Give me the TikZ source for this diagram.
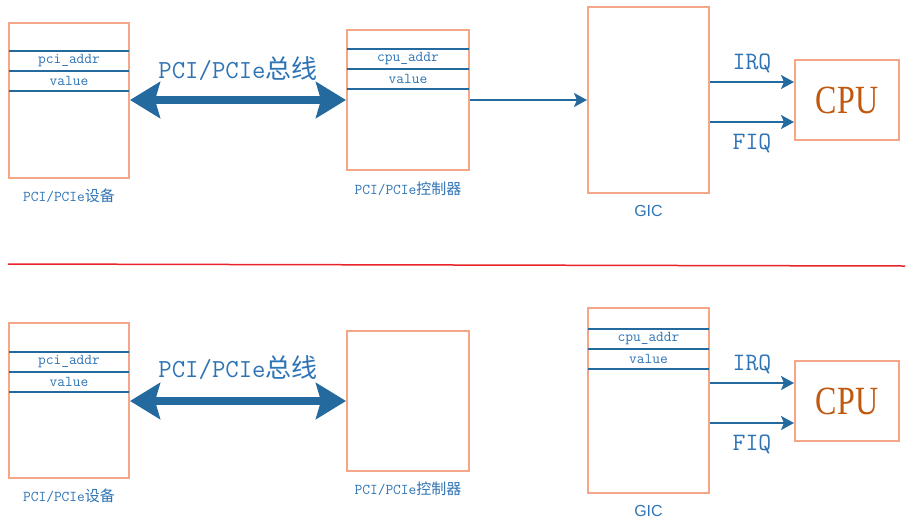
\documentclass[tikz,border=0pt]{standalone}
\usepackage{fontspec}
\newfontfamily\cjk{Noto Sans CJK SC}
\newfontfamily\gicfont{Liberation Sans}
\newfontfamily\cpufont[FakeStretch=0.8]{Liberation Serif}
\usetikzlibrary{arrows.meta,calc}
\definecolor{bord}{HTML}{F4A686}
\definecolor{blu}{HTML}{2E74B5}
\definecolor{arr}{HTML}{246A9F}
\definecolor{cpuc}{HTML}{C0580E}
\definecolor{redl}{HTML}{E8232A}
\tikzset{
  box/.style={draw=bord, line width=2pt, fill=white, inner sep=0pt, rectangle},
  reg/.style={draw=arr, line width=1.6pt},
  regtxt/.style={text=blu, font=\ttfamily\fontsize{15}{18}\selectfont, inner sep=0pt},
  lab/.style={text=blu, font=\ttfamily\fontsize{15}{18}\selectfont, inner sep=0pt},
  giclab/.style={text=blu, font=\gicfont\fontsize{16}{19}\selectfont, inner sep=0pt},
  buslab/.style={text=blu, font=\ttfamily\fontsize{26}{30}\selectfont, inner sep=0pt},
  siglab/.style={text=blu, font=\ttfamily\fontsize{25}{30}\selectfont, inner sep=0pt},
  cpulab/.style={text=cpuc, font=\cpufont\fontsize{40}{44}\selectfont},
  bus/.style={draw=arr, line width=8pt,
    {Stealth[length=30pt,width=36pt,inset=5pt]}-{Stealth[length=30pt,width=36pt,inset=5pt]}},
  sig/.style={draw=arr, line width=2pt, -{Stealth[length=13pt,width=14pt,inset=3pt]}},
}
\begin{document}
\begin{tikzpicture}[x=1pt,y=-1pt]
\useasboundingbox (0,0) rectangle (907,528);

% ---------------- top half ----------------
\node[box, minimum width=120pt, minimum height=155pt] (dev1) at (69,100.5) {};
\node[box, minimum width=122pt, minimum height=140pt] (ctl1) at (408,100) {};
\node[box, minimum width=121pt, minimum height=186pt] (gic1) at (648.5,100) {};
\node[box, minimum width=104pt, minimum height=80pt] (cpu1) at (847,100) {};
\node[cpulab] (cpu1t) at (cpu1.center) {CPU};

\foreach \d in {29,49,69}
  \draw[reg] ([shift={(1pt,-\d pt)}]dev1.north west) -- ([shift={(-1pt,-\d pt)}]dev1.north east);
\node[regtxt] (dev1a) at ([yshift=-39pt]dev1.north) {pci\_addr};
\node[regtxt] (dev1b) at ([yshift=-59pt]dev1.north) {value};

\foreach \d in {20,40,60}
  \draw[reg] ([shift={(1pt,-\d pt)}]ctl1.north west) -- ([shift={(-1pt,-\d pt)}]ctl1.north east);
\node[regtxt] (ctl1a) at ([yshift=-30pt]ctl1.north) {cpu\_addr};
\node[regtxt] (ctl1b) at ([yshift=-50pt]ctl1.north) {value};

\node[lab] (dev1l) at ([yshift=-17pt]dev1.south) {PCI/PCIe{\cjk 设备}};
\node[lab] (ctl1l) at ([yshift=-18pt]ctl1.south) {PCI/PCIe{\cjk 控制器}};
\node[giclab] (gic1l) at ([yshift=-17pt]gic1.south) {GIC};

\draw[bus] (ctl1.west -| dev1.east) -- (ctl1.west)
  node[buslab, midway, yshift=31pt] (bus1l) {PCI/PCIe{\cjk 总线}};
\draw[sig] (ctl1.east) -- (gic1.west);
\draw[sig] ([yshift=18pt]cpu1.west -| gic1.east) -- ([yshift=18pt]cpu1.west)
  node[siglab, midway, yshift=19pt] (irq1) {IRQ};
\draw[sig] ([yshift=-22pt]cpu1.west -| gic1.east) -- ([yshift=-22pt]cpu1.west)
  node[siglab, midway, yshift=-21pt] (fiq1) {FIQ};

% ---------------- divider ----------------
\coordinate (divL) at (8,264);
\coordinate (divR) at (905,266);
\draw[redl, line width=1.5pt] (divL) -- (divR);

% ---------------- bottom half ----------------
\node[box, minimum width=120pt, minimum height=155pt] (dev2) at (69,400.5) {};
\node[box, minimum width=122pt, minimum height=140pt] (ctl2) at (408,401) {};
\node[box, minimum width=121pt, minimum height=185pt] (gic2) at (648.5,400.5) {};
\node[box, minimum width=104pt, minimum height=80pt] (cpu2) at (847,401) {};
\node[cpulab] (cpu2t) at (cpu2.center) {CPU};

\foreach \d in {30,50,70}
  \draw[reg] ([shift={(1pt,-\d pt)}]dev2.north west) -- ([shift={(-1pt,-\d pt)}]dev2.north east);
\node[regtxt] (dev2a) at ([yshift=-40pt]dev2.north) {pci\_addr};
\node[regtxt] (dev2b) at ([yshift=-60pt]dev2.north) {value};

\foreach \d in {22,42,62}
  \draw[reg] ([shift={(1pt,-\d pt)}]gic2.north west) -- ([shift={(-1pt,-\d pt)}]gic2.north east);
\node[regtxt] (gic2a) at ([yshift=-32pt]gic2.north) {cpu\_addr};
\node[regtxt] (gic2b) at ([yshift=-52pt]gic2.north) {value};

\node[lab] (dev2l) at ([yshift=-17pt]dev2.south) {PCI/PCIe{\cjk 设备}};
\node[lab] (ctl2l) at ([yshift=-17pt]ctl2.south) {PCI/PCIe{\cjk 控制器}};
\node[giclab] (gic2l) at ([yshift=-17pt]gic2.south) {GIC};

\draw[bus] (ctl2.west -| dev2.east) -- (ctl2.west)
  node[buslab, midway, yshift=33pt] (bus2l) {PCI/PCIe{\cjk 总线}};
\draw[sig] ([yshift=18pt]cpu2.west -| gic2.east) -- ([yshift=18pt]cpu2.west)
  node[siglab, midway, yshift=19pt] (irq2) {IRQ};
\draw[sig] ([yshift=-22pt]cpu2.west -| gic2.east) -- ([yshift=-22pt]cpu2.west)
  node[siglab, midway, yshift=-21pt] (fiq2) {FIQ};
\end{tikzpicture}
\end{document}
